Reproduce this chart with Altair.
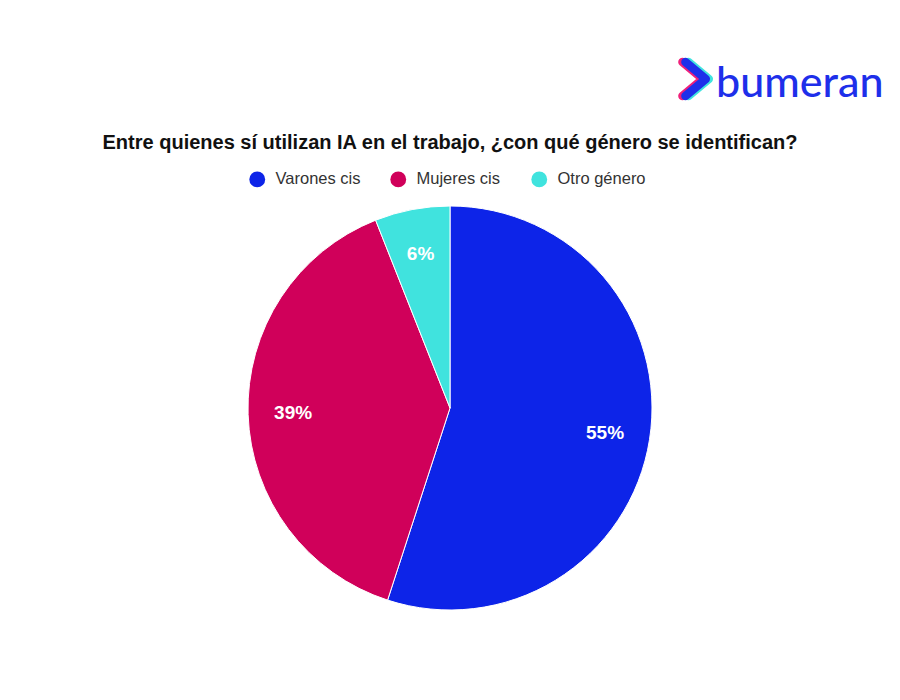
import altair as alt
import pandas as pd

categories = ["Varones cis", "Mujeres cis", "Otro género"]
values = [55, 39, 6]
labels = ["55%", "39%", "6%"]
colors = ["#0D24E8", "#D0005A", "#40E3DE"]
title_text = "Entre quienes sí utilizan IA en el trabajo, ¿con qué género se identifican?"
brand = "bumeran"

df = pd.DataFrame({"cat": categories, "val": values, "lab": labels, "ord": list(range(len(categories)))})

CX, CY, R = 442, 400, 202

base = alt.Chart(df).encode(
    theta=alt.Theta("val:Q", stack=True),
    order=alt.Order("ord:Q"),
)

arcs = base.mark_arc(outerRadius=R, stroke="white", strokeWidth=1).encode(
    x=alt.value(CX), y=alt.value(CY),
    color=alt.Color(
        "cat:N",
        scale=alt.Scale(domain=categories, range=colors),
        sort=categories,
        legend=alt.Legend(
            title=None, orient="none", direction="horizontal",
            legendX=241, legendY=163,
            symbolType="circle", symbolSize=250, symbolStrokeWidth=0,
            labelFont="Liberation Sans", labelFontSize=16.5, labelColor="#333333",
            labelOffset=10, columnPadding=26, gridAlign="all",
        ),
    ),
)

texts = base.mark_text(
    radius=157, font="Liberation Sans", fontSize=19, fontWeight="bold", color="white"
).encode(x=alt.value(CX), y=alt.value(CY), text="lab:N")

one = pd.DataFrame({"t": [title_text]})
title = alt.Chart(one).mark_text(
    font="Liberation Sans", fontSize=20, fontWeight="bold", color="#111111", align="center", baseline="middle"
).encode(x=alt.value(442), y=alt.value(135), text="t:N")

logo_df = pd.DataFrame({"t": [brand]})
logo = alt.Chart(logo_df).mark_text(
    font="Lato", fontSize=43, fontWeight=500, color="#1E2FEA", align="left", baseline="alphabetic"
).encode(x=alt.value(708), y=alt.value(89), text="t:N")

CHEVRON = "M -0.8 -1 L 0.4 0 L -0.8 1"
chev_df = pd.DataFrame({"c": ["#40E3DE", "#F0207A", "#1E2FEA"], "i": [0, 1, 2], "dx": [3, -3, 0]})
chev = alt.Chart(chev_df).mark_point(
    shape=CHEVRON, filled=False, size=1150, opacity=1, strokeWidth=8.5,
    strokeCap="round", strokeJoin="round"
).encode(
    x=alt.X("dx:Q", scale=alt.Scale(domain=[-10, 10], range=[681, 701]), axis=None),
    y=alt.value(71), stroke=alt.Color("c:N", scale=None), order=alt.Order("i:Q"),
)

chart = alt.layer(arcs, texts, title, chev, logo).properties(
    width=884, height=684, padding=0, autosize=alt.AutoSizeParams(type="none")
).resolve_scale(x="independent").configure(
    background="white", view=alt.ViewConfig(stroke="transparent", strokeWidth=0)
)

chart.save("out.html", embed_options={"renderer": "svg", "actions": False})
